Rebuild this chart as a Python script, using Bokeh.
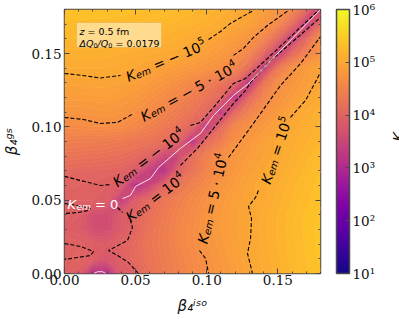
import math
import numpy as np
from bokeh.plotting import figure
from bokeh.embed import file_html
from bokeh.resources import INLINE
from bokeh.models import (Range1d, FixedTicker, LinearAxis, ColorBar, LogColorMapper, Label,
                          BoxAnnotation, NumeralTickFormatter)
from bokeh.palettes import Plasma256

beta_iso = [round(i * 0.01, 2) for i in range(19)]
beta_gs = [round(i * 0.01, 2) for i in range(19)]

# log10(K), one row per beta_gs value
r00 = [3.95,3.9,3.1,3.1,3.85,3.98,4.2,4.35,4.47,4.58,4.69,4.78,4.87,4.98,5.05,5.12,5.2,5.28,5.35]
r01 = [3.98,4.02,3.9,3.75,3.93,4.1,4.25,4.38,4.5,4.6,4.71,4.8,4.9,5.0,5.07,5.14,5.22,5.3,5.36]
r02 = [4.0,3.98,3.9,3.85,3.98,4.12,4.28,4.4,4.53,4.63,4.74,4.83,4.92,5.0,5.07,5.15,5.23,5.31,5.37]
r03 = [3.9,3.85,3.65,3.62,3.85,4.03,4.25,4.4,4.53,4.64,4.76,4.85,4.94,5.0,5.08,5.15,5.24,5.32,5.37]
r04 = [3.98,3.9,3.65,3.6,3.85,4.02,4.2,4.35,4.5,4.62,4.75,4.85,4.93,5.0,5.07,5.15,5.23,5.31,5.36]
r05 = [3.95,3.95,3.95,3.9,3.3,3.85,4.1,4.28,4.45,4.58,4.7,4.82,4.92,4.98,5.03,5.12,5.2,5.28,5.34]
r06 = [4.02,4.0,3.98,3.95,3.8,3.1,3.45,4.0,4.25,4.45,4.62,4.75,4.87,4.98,5.03,5.1,5.18,5.26,5.33]
r07 = [4.07,4.05,4.04,4.03,4.0,3.8,3.3,3.1,3.95,4.25,4.5,4.68,4.8,4.92,5.0,5.05,5.13,5.22,5.3]
r08 = [4.25,4.24,4.22,4.2,4.17,4.1,3.95,3.5,3.5,4.15,4.45,4.65,4.78,4.87,4.95,5.02,5.1,5.18,5.25]
r09 = [4.43,4.41,4.4,4.38,4.35,4.3,4.25,4.15,3.95,3.15,4.1,4.4,4.68,4.8,4.93,5.02,5.08,5.14,5.2]
r10 = [4.63,4.63,4.65,4.65,4.63,4.55,4.45,4.35,4.2,4.0,3.25,4.05,4.55,4.7,4.82,4.93,5.02,5.1,5.17]
r11 = [4.76,4.76,4.78,4.79,4.76,4.69,4.6,4.5,4.38,4.25,4.05,3.25,4.05,4.45,4.68,4.82,4.96,5.05,5.13]
r12 = [4.87,4.87,4.88,4.88,4.85,4.8,4.72,4.63,4.52,4.4,4.25,4.02,3.15,4.05,4.5,4.73,4.85,4.98,5.05]
r13 = [4.97,4.97,4.98,4.98,4.95,4.9,4.84,4.76,4.66,4.55,4.42,4.25,4.0,3.15,4.25,4.62,4.77,4.88,4.96]
r14 = [5.05,5.05,5.05,5.05,5.02,4.99,4.95,4.9,4.85,4.8,4.74,4.66,4.5,4.1,3.3,4.3,4.67,4.85,4.98]
r15 = [5.13,5.13,5.13,5.12,5.1,5.07,5.05,5.03,5.02,4.97,4.9,4.82,4.7,4.5,4.05,3.3,4.05,4.45,4.72]
r16 = [5.2,5.2,5.2,5.2,5.2,5.18,5.16,5.13,5.1,5.06,5.01,4.93,4.85,4.72,4.5,4.05,3.3,4.05,4.68]
r17 = [5.28,5.28,5.27,5.27,5.26,5.25,5.23,5.21,5.18,5.15,5.12,5.06,5.0,4.92,4.78,4.55,4.1,3.3,4.1]
r18 = [5.35,5.35,5.35,5.34,5.33,5.31,5.3,5.28,5.25,5.22,5.18,5.13,5.08,5.0,4.9,4.78,4.55,4.1,3.3]
rows = [r00,r01,r02,r03,r04,r05,r06,r07,r08,r09,r10,r11,r12,r13,r14,r15,r16,r17,r18]

# dashed contour lines of K_em: (beta_iso, beta_gs)
m1e5_a_x = [0,.0127,.0253,.0394];  m1e5_a_y = [.1364,.135,.1333,.135]
m1e5_b_x = [.1013,.1097,.1167,.1329];  m1e5_b_y = [.1596,.165,.1705,.1794]
m5e4_a_x = [0,.0134,.0253,.0373,.0485];  m5e4_a_y = [.1064,.105,.1023,.103,.1091]
m5e4_b_x = [.1188,.1259,.1329,.1427,.1575];  m5e4_b_y = [.1487,.1535,.161,.1691,.1794]
m1e4_a_x = [0,.0113,.0253,.0323];  m1e4_a_y = [.0662,.0634,.06,.0607]
m1e4_b_x = [.0886,.0956,.1048,.1188,.1273,.1427,.1786];  m1e4_b_y = [.1009,.103,.1132,.1296,.133,.1466,.1794]
p1e4_a_x = [.052,.045,.0373,.0309,.0443,.0478,.0464];  p1e4_a_y = [0,.0075,.0123,.0157,.0225,.0314,.0361]
p1e4_b_x = [.0373,.0408];  p1e4_b_y = [.045,.0416]
p1e4_c_x = [0,.0113,.0204,.0183,.0091,0];  p1e4_c_y = [.0205,.0184,.015,.0123,.0109,.0095]
p1e4_d_x = [0,.0091,.0183,.0169,.0098,0];  p1e4_d_y = [.0477,.0464,.0443,.043,.0416,.0409]
p1e4_e_x = [.0815,.0935,.1048,.1188,.1273,.1308,.1427,.18];  p1e4_e_y = [.0737,.0853,.0989,.116,.1248,.1303,.1432,.1746]
p5e4_a_x = [.1153,.1308,.1519,.166,.18];  p5e4_a_y = [.0791,.0996,.1282,.1432,.1616]
p5e4_b_x = [.0949,.0992,.1013];  p5e4_b_y = [.0157,.0102,0]
p1e5_a_x = [.1589,.1695,.18];  p1e5_a_y = [.1064,.118,.1371]
p1e5_b_x = [.1364,.1343,.1294,.1315,.1308,.1287,.1322];  p1e5_b_y = [.0566,.0518,.0457,.0375,.0239,.0136,0]
dashed = [(m1e5_a_x,m1e5_a_y),(m1e5_b_x,m1e5_b_y),(m5e4_a_x,m5e4_a_y),(m5e4_b_x,m5e4_b_y),
          (m1e4_a_x,m1e4_a_y),(m1e4_b_x,m1e4_b_y),(p1e4_a_x,p1e4_a_y),(p1e4_b_x,p1e4_b_y),
          (p1e4_c_x,p1e4_c_y),(p1e4_d_x,p1e4_d_y),(p1e4_e_x,p1e4_e_y),(p5e4_a_x,p5e4_a_y),
          (p5e4_b_x,p5e4_b_y),(p1e5_a_x,p1e5_a_y),(p1e5_b_x,p1e5_b_y)]
# K_em = 0
zero_a_x = [.0408,.0464,.0499,.0605,.0661,.0815,.0956,.1048,.1188,.1287,.18]
zero_a_y = [.0511,.0532,.0593,.0648,.0723,.0853,.0955,.1078,.1214,.1289,.18]
zero_b_x = [.0207,.0232,.0267,.029];  zero_b_y = [0,.0012,.0012,0]

tick_vals = [0.0, 0.05, 0.10, 0.15]
minor_vals = [round(i*0.01,2) for i in range(19)]
cbar_ticks = [10, 100, 1000, 10000, 100000, 1000000]
cbar_labels = ["10¹","10²","10³","10⁴","10⁵","10⁶"]

EDGE = "#4a4a4a"
p = figure(width=383, height=303, output_backend="svg", toolbar_location=None,
           x_range=Range1d(0, .18), y_range=Range1d(0, .18),
           frame_width=256, frame_height=264,
           min_border_left=64, min_border_right=79, min_border_top=9, min_border_bottom=45,
           background_fill_color=None, border_fill_color="white")
p.grid.visible = False
p.outline_line_color = EDGE
p.outline_line_width = 1.5

levels = list(np.linspace(1, 6, 101))
fills = [Plasma256[min(255, int((i + .5) / 100 * 256))] for i in range(100)]
lines = fills + [fills[-1]]
p.contour(beta_iso, beta_gs, np.array(rows), levels, fill_color=fills, line_color=lines, line_width=1)

for xs, ys in dashed:
    p.line(xs, ys, line_color="black", line_width=1.1, line_dash="4 2")
p.line(zero_a_x, zero_a_y, line_color="white", line_width=1, line_alpha=.85)
p.line(zero_b_x, zero_b_y, line_color="white", line_width=1, line_alpha=.85)


def style(ax, labels=True):
    ax.ticker = FixedTicker(ticks=tick_vals, minor_ticks=minor_vals)
    ax.axis_line_color = None
    ax.major_tick_in = 5
    ax.major_tick_out = 0
    ax.minor_tick_in = 2
    ax.minor_tick_out = 0
    ax.major_tick_line_color = EDGE
    ax.minor_tick_line_color = EDGE
    ax.major_tick_line_width = 1
    ax.minor_tick_line_width = 1
    ax.major_label_text_font = "DejaVu Serif"
    ax.major_label_text_font_size = "13.5px"
    ax.major_label_text_color = "#111111"
    ax.major_label_standoff = 3
    ax.axis_label_text_font = "DejaVu Sans"
    ax.axis_label_text_font_style = "italic"
    ax.axis_label_text_font_size = "15px"
    ax.axis_label_text_color = "#111111"
    if not labels:
        ax.major_label_overrides = {v: "" for v in tick_vals}
        ax.major_label_standoff = 0
        ax.major_label_text_font_size = "1px"


for ax in p.xaxis + p.yaxis:
    style(ax)
    ax.formatter = NumeralTickFormatter(format="0.00")
for ax in p.xaxis:
    ax.major_label_standoff = 1
    ax.axis_label = "β₄ⁱˢᵒ"
    ax.axis_label_standoff = 9
for ax in p.yaxis:
    ax.axis_label = "β₄ᵍˢ"
    ax.axis_label_standoff = 7
top = LinearAxis(); style(top, False); p.add_layout(top, "above")
right = LinearAxis(); style(right, False); p.add_layout(right, "right")

mapper = LogColorMapper(palette=Plasma256, low=10, high=1e6)
cb = ColorBar(color_mapper=mapper, width=13, height=264, padding=0, margin=0, location=(16, 0),
              ticker=FixedTicker(ticks=cbar_ticks),
              major_label_overrides=dict(zip(cbar_ticks, cbar_labels)),
              major_label_text_font="DejaVu Serif", major_label_text_font_size="13.5px",
              major_label_text_color="#111111", label_standoff=3,
              bar_line_color=EDGE, bar_line_width=1.5,
              major_tick_line_color=EDGE, major_tick_in=4, minor_tick_line_color=None)
p.add_layout(cb, "right")

k_axis = LinearAxis(ticker=FixedTicker(ticks=[]), axis_line_color=None, major_tick_line_color=None,
                    minor_tick_line_color=None, axis_label="K", axis_label_standoff=19,
                    axis_label_text_font="DejaVu Sans", axis_label_text_font_style="italic",
                    axis_label_text_font_size="14.5px", axis_label_text_color="#111111",
                    axis_label_orientation=math.pi / 2)
p.add_layout(k_axis, "right")

# pixel scale of the frame, used only to move pieces of a label along its baseline
X0, Y0, SX, SY = 64, 273, 0.18/256, 0.18/264
W = {"K":.686,"e":.615,"m":.974,"=":.838," ":.318,"−":.838,"·":.318,
     "Q":.787,"Δ":.684,"/":.337,"z":.525,"f":.352,".":.318}


def width(txt, size):
    return sum(W.get(c, .636) for c in txt) * size


def pieces(px, py, angle, parts, color="black"):
    """parts: (text, size, shift, italic, font)"""
    a = math.radians(angle)
    adv = 0
    x = (px - X0) * SX
    y = (Y0 - py) * SY
    for txt, size, shift, italic, font in parts:
        stripped = txt.lstrip(" ")
        adv += width(txt[:len(txt) - len(stripped)], size)
        off_x = math.cos(a)*adv - math.sin(a)*shift
        off_y = math.sin(a)*adv + math.cos(a)*shift
        p.add_layout(Label(x=x, y=y, x_offset=off_x, y_offset=off_y, text=stripped, angle=angle,
                           angle_units="deg", text_font=font,
                           text_font_size=f"{size}px", text_color=color, text_align="left",
                           text_baseline="alphabetic",
                           text_font_style="italic" if italic else "normal"))
        adv += width(stripped, size)


def kem(px, py, angle, tail, sup=None, color="black", size=14):
    f = "DejaVu Sans"
    parts = [("K", size, 0, True, f), ("em", size*.7, -2.2, True, f), (tail, size, 0, False, f)]
    if sup:
        parts.append((sup, size*.7, 5.5, False, f))
    pieces(px, py, angle, parts, color)


kem(126, 77, 23, " = − 10", "5")
kem(141, 117, 28.5, " = − 5 · 10", "4")
kem(114, 183, 37, " = − 10", "4")
kem(127, 218, 37, " = 10", "4")
kem(202, 243, 77, " = 5 · 10", "4")
kem(265, 183, 71.5, " = 10", "5")
kem(67, 204, 0, " = 0", None, "white", 13)

box = BoxAnnotation(left=(76-X0)*SX, right=(161-X0)*SX, top=(Y0-22)*SY, bottom=(Y0-47)*SY,
                    fill_color="#ffe0a0", fill_alpha=.85, line_color="#c79a45", line_width=1)
p.add_layout(box)
f = "DejaVu Sans"
pieces(79, 31, 0, [("z", 9.5, 0, True, f), (" = 0.5 fm", 9.5, 0, False, f)])
pieces(79, 43, 0, [("ΔQ", 9.5, 0, True, f), ("0", 6.5, -1.5, False, f), ("/Q", 9.5, 0, True, f),
                   ("0", 6.5, -1.5, False, f), (" = 0.0179", 9.5, 0, False, f)])

open("out.html", "w").write(file_html(p, INLINE))
